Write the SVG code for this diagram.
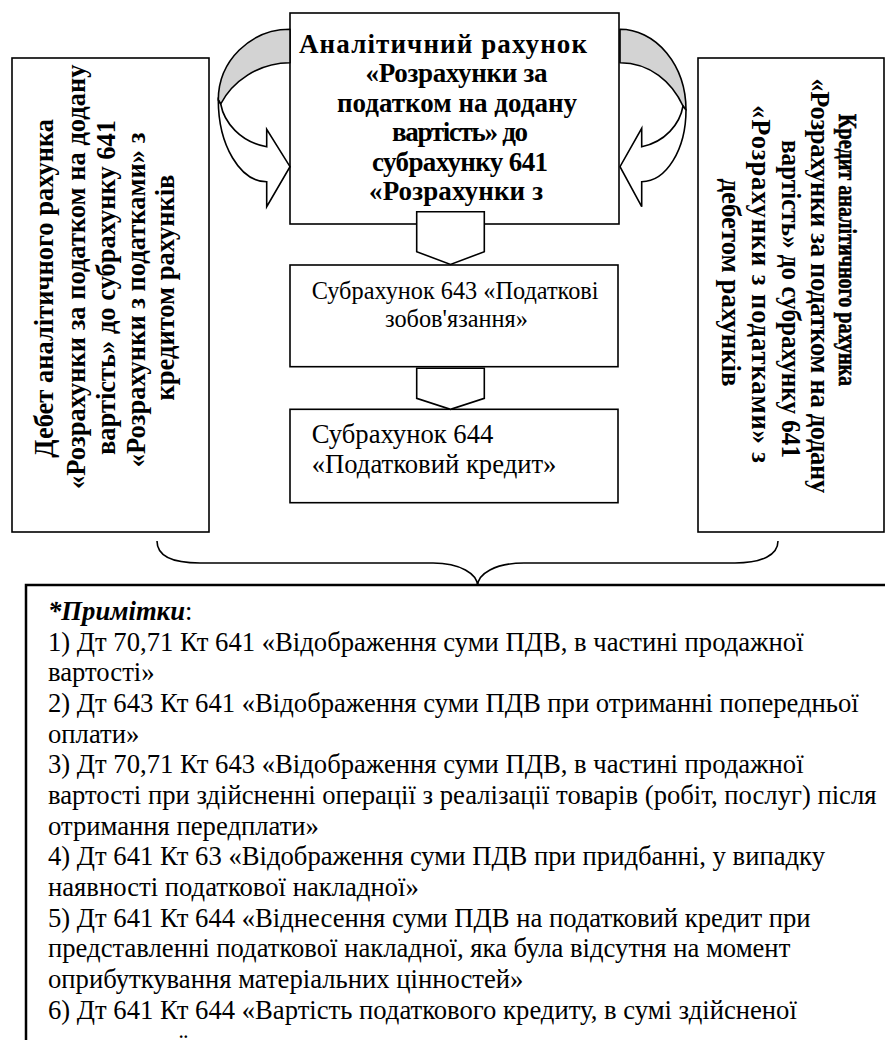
<svg xmlns="http://www.w3.org/2000/svg" width="885" height="1040" viewBox="0 0 885 1040">
<style>
.box{fill:#fff;stroke:#000;stroke-width:1.6}
.nbox{fill:#fff;stroke:#000;stroke-width:2.5}
.b{font-family:"Liberation Serif","Times New Roman",serif;font-weight:bold;font-size:27px;fill:#000}
.bv{font-family:"Liberation Serif","Times New Roman",serif;font-weight:bold;font-size:26.5px;fill:#000}
.r{font-family:"Liberation Serif","Times New Roman",serif;font-size:26.67px;fill:#000}
.r24{font-family:"Liberation Serif","Times New Roman",serif;font-size:24.3px;fill:#000}
.grey{fill:#d3d3d3;stroke:#000;stroke-width:1.6;stroke-linejoin:round}
.white{fill:#fff;stroke:#000;stroke-width:1.6;stroke-linejoin:miter}
.line{fill:none;stroke:#000;stroke-width:1.6}
</style>
<g id="left-box">
<rect class="box" x="12" y="58" width="197" height="474"/>
<text class="bv" text-anchor="middle" transform="translate(53,288.3) rotate(-90)">Дебет  аналітичного рахунка</text>
<text class="bv" text-anchor="middle" transform="translate(84.5,276.7) rotate(-90)">«Розрахунки за податком на додану</text>
<text class="bv" text-anchor="middle" transform="translate(115,287.5) rotate(-90)">вартість» до субрахунку 641</text>
<text class="bv" text-anchor="middle" transform="translate(145,300) rotate(-90)">«Розрахунки з податками»  з</text>
<text class="bv" text-anchor="middle" transform="translate(174,287.5) rotate(-90)">кредитом  рахунків</text>
</g>
<g id="right-box">
<rect class="box" x="698" y="58" width="186" height="474"/>
<text class="bv" text-anchor="middle" style="font-size:25.5px;stroke:#000;stroke-width:0.6" transform="translate(839,250) rotate(90)" textLength="272" lengthAdjust="spacingAndGlyphs">Кредит аналітичного рахунка</text>
<text class="bv" text-anchor="middle" transform="translate(810.5,285.8) rotate(90)" textLength="415" lengthAdjust="spacing">«Розрахунки за податком на додану</text>
<text class="bv" text-anchor="middle" transform="translate(782,299) rotate(90)" textLength="318" lengthAdjust="spacingAndGlyphs">вартість» до субрахунку 641</text>
<text class="bv" text-anchor="middle" transform="translate(752,284) rotate(90)" textLength="358" lengthAdjust="spacing">«Розрахунки з податками»  з</text>
<text class="bv" text-anchor="middle" transform="translate(722,282.5) rotate(90)" textLength="208" lengthAdjust="spacingAndGlyphs">дебетом рахунків</text>
</g>
<g id="top-box">
<rect class="box" x="290" y="13" width="329" height="211"/>
<text class="b" text-anchor="middle" x="443" y="52.5" textLength="288" lengthAdjust="spacing">Аналітичний рахунок</text>
<text class="b" text-anchor="middle" x="456.5" y="82" textLength="182" lengthAdjust="spacing">«Розрахунки за</text>
<text class="b" text-anchor="middle" x="457" y="111.5" textLength="240" lengthAdjust="spacing">податком на додану</text>
<text class="b" text-anchor="middle" x="460" y="141" textLength="136" lengthAdjust="spacing">вартість» до</text>
<text class="b" text-anchor="middle" x="460" y="170.5" textLength="176" lengthAdjust="spacing">субрахунку 641</text>
<text class="b" text-anchor="middle" x="456" y="200" textLength="174" lengthAdjust="spacing">«Розрахунки з</text>
</g>
<g id="box-643">
<rect class="box" x="290" y="265" width="328" height="101.7"/>
<text class="r24" x="311.7" y="299.3">Субрахунок 643 «Податкові</text>
<text class="r24" x="385" y="326.5">зобов'язання»</text>
</g>
<g id="box-644">
<rect class="box" x="290" y="409.3" width="328" height="93.4"/>
<text class="r" x="311.7" y="442.7">Субрахунок 644</text>
<text class="r" x="311.7" y="473.3">«Податковий кредит»</text>
</g>
<g id="notes">
<rect class="nbox" x="26" y="585" width="900" height="500"/>
<text class="r" x="48" y="620"><tspan font-weight="bold" font-style="italic">*Примітки</tspan>:</text>
<text class="r" x="48" y="650.7">1) Дт 70,71 Кт 641 «Відображення суми ПДВ, в частині продажної</text>
<text class="r" x="48" y="681.3">вартості»</text>
<text class="r" x="48" y="712">2) Дт 643 Кт 641 «Відображення суми ПДВ при отриманні попередньої</text>
<text class="r" x="48" y="742.7">оплати»</text>
<text class="r" x="48" y="773.3">3) Дт 70,71 Кт 643 «Відображення суми ПДВ, в частині продажної</text>
<text class="r" x="48" y="804">вартості при здійсненні операції з реалізації товарів (робіт, послуг) після</text>
<text class="r" x="48" y="834.7">отримання передплати»</text>
<text class="r" x="48" y="865.3">4) Дт 641 Кт 63 «Відображення суми ПДВ при придбанні, у випадку</text>
<text class="r" x="48" y="896">наявності податкової накладної»</text>
<text class="r" x="48" y="926.7">5) Дт 641 Кт 644 «Віднесення суми ПДВ на податковий кредит при</text>
<text class="r" x="48" y="957.3">представленні податкової накладної, яка була відсутня на момент</text>
<text class="r" x="48" y="988">оприбуткування матеріальних цінностей»</text>
<text class="r" x="48" y="1018.7">6) Дт 641 Кт 644 «Вартість податкового кредиту, в сумі здійсненої</text>
<text class="r" x="48" y="1053">попередньої оплати»</text>
</g>
<g id="connectors">
<path class="grey" d="M290,29.3 A71.7 70.7 0 0 0 218.3,100 L220.7,104 C232,82 258,62.7 290,62.7 Z"/>
<path class="white" d="M220.7,104 C224,122 240,142 266.7,146.7 L266.7,129.3 L290,166.7 L266.7,206.7 L266.7,181.7 A48.4 81.7 0 0 1 218.3,100 Z"/>
<path class="grey" d="M620,29.3 A66 80.7 0 0 1 686,110 L683,106 C672,82 650,62.7 620,62.7 Z"/>
<path class="white" d="M683,106 C680,124 665,142 641.7,146.7 L641.7,128.3 L620,166.7 L641.7,206.7 L641.7,181.7 A44.3 71.7 0 0 0 686,110 Z"/>
<path class="white" d="M416.7,211.7 L484.3,211.7 L484.3,251.7 L450.5,264.5 L416.7,251.7 Z"/>
<path class="white" d="M416.7,368.3 L484.3,368.3 L484.3,398.3 L450.5,409.3 L416.7,398.3 Z"/>
<path class="line" d="M157,541 C157,556 172,563 200,563 L433,563 C460,563 477.6,574 477.6,586 C477.6,574 495,563 524,563 L735,563 C762,563 778,555 778,541"/>
</g>
</svg>
